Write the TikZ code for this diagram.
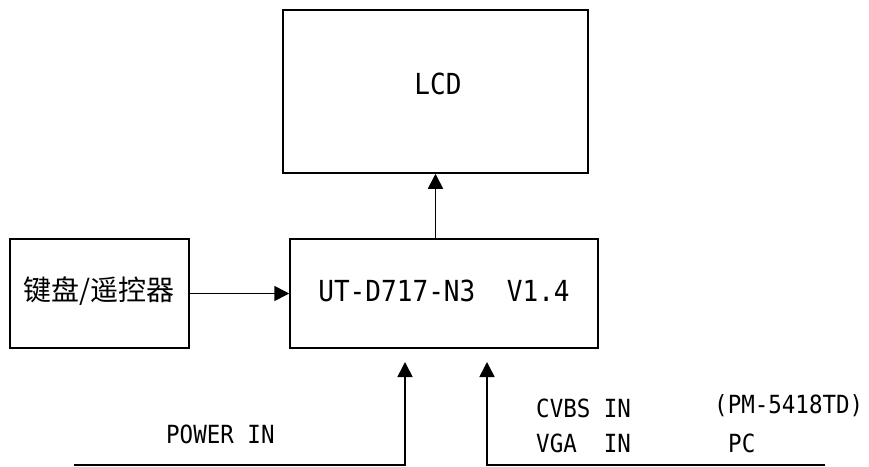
\documentclass[tikz,border=0pt]{standalone}
\usepackage{fontspec}
\setmainfont{DejaVu Sans Mono}[FakeStretch=0.9]
\newfontfamily\cjk{Noto Sans CJK SC}
\usetikzlibrary{arrows.meta}
\begin{document}
\begin{tikzpicture}[x=1pt,y=-1pt,
  box/.style={draw,line width=1.5pt,inner sep=0pt},
  wire/.style={line width=1.6pt},
  feed/.style={wire,-{Triangle[length=15pt,width=15pt]}},
  big/.style={font=\fontsize{29}{32}\selectfont,inner sep=0pt,anchor=center},
  small/.style={font=\fontsize{25}{28}\selectfont,inner sep=0pt,anchor=west}]
  \useasboundingbox (0,0) rectangle (869,466);

  % blocks
  \node[box,minimum width=305pt,minimum height=163pt] (lcd) at (435.5,91.5) {};
  \node[box,minimum width=308pt,minimum height=109pt] (main) at (444,293.5) {};
  \node[box,minimum width=179pt,minimum height=109pt] (kbd) at (99.5,293.5) {};

  % block titles
  \node[big] (lcdt) at (438,84) {LCD};
  \node[big] (maint) at (444,291) {UT-D717-N3\ \ V1.4};
  \node[font=\cjk\fontsize{28}{30}\selectfont,inner sep=0pt] (kbdt) at (99,291) {键盘/遥控器};

  % main board to panel, keys to main board
  \draw[feed] (main.north -| lcd.south) -- (lcd.south);
  \draw[feed] (kbd.east) -- (main.west);

  % input feeds from below
  \coordinate (pwrL) at (74,465);
  \coordinate (pwrC) at (405,465);
  \coordinate (pwrT) at (405,362);
  \coordinate (sigR) at (825,465);
  \coordinate (sigC) at (487,465);
  \coordinate (sigT) at (487,362);
  \draw[feed] (pwrL) -- (pwrC) -- (pwrT);
  \draw[feed] (sigR) -- (sigC) -- (sigT);

  % input labels
  \node[small] (pwr) at (166,434) {POWER IN};
  \node[small] (cvbs) at (536,408) {CVBS IN};
  \node[small] (vga) at (536,443) {VGA\ \ IN};
  \node[small] (pm) at (714,406) {(PM-5418TD)};
  \node[small] (pc) at (728,443) {PC};
\end{tikzpicture}
\end{document}
